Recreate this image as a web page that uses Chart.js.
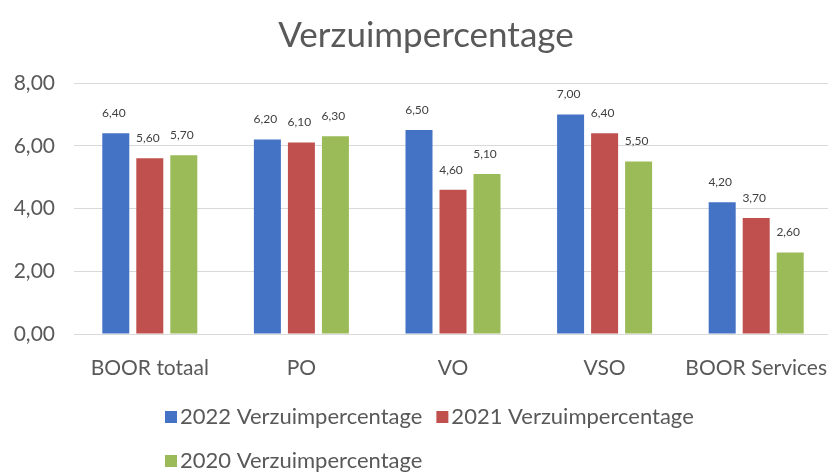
<!DOCTYPE html>
<html><head><meta charset="utf-8">
<script src="https://cdn.jsdelivr.net/npm/chart.js@4"></script>
<style>html,body{margin:0;padding:0;background:#fff;overflow:hidden;}#wrap{width:834px;height:472px;}</style>
</head><body><div id="wrap"><canvas id="c"></canvas></div>
<script>
const categories = ["BOOR totaal", "PO", "VO", "VSO", "BOOR Services"];
const seriesNames = ["2022 Verzuimpercentage", "2021 Verzuimpercentage", "2020 Verzuimpercentage"];
const values2022 = [6.40, 6.20, 6.50, 7.00, 4.20];
const values2021 = [5.60, 6.10, 4.60, 6.40, 3.70];
const values2020 = [5.70, 6.30, 5.10, 5.50, 2.60];
const yTicks = [0, 2, 4, 6, 8];
const colors = ["#4472c4", "#c0504d", "#9bbb59"];
const FONT = "Lato";
const fmt = v => v.toFixed(2).replace(".", ",");

const titleShift = {
  id: "titleShift",
  afterLayout(chart) {
    if (chart.titleBlock) { chart.titleBlock.left += 20; chart.titleBlock.right += 0; }
  }
};

const labelPlugin = {
  id: "barLabels",
  afterDatasetsDraw(chart) {
    const ctx = chart.ctx;
    ctx.save();
    ctx.font = "12px " + FONT;
    ctx.fillStyle = "#404040";
    ctx.textAlign = "center";
    ctx.textBaseline = "middle";
    chart.data.datasets.forEach((ds, i) => {
      const meta = chart.getDatasetMeta(i);
      meta.data.forEach((bar, j) => {
        ctx.fillText(fmt(ds.data[j]), bar.x - 2, bar.y - 20);
      });
    });
    ctx.restore();
  }
};

const legendPlugin = {
  id: "customLegend",
  afterDraw(chart) {
    const ctx = chart.ctx;
    ctx.save();
    ctx.font = "22px " + FONT;
    ctx.textBaseline = "middle";
    ctx.textAlign = "left";
    const startX = 165;
    const rows = [[0, 1], [2]];
    const rowY = [417, 461];
    rows.forEach((row, r) => {
      let x = startX;
      row.forEach(i => {
        const ds = chart.data.datasets[i];
        ctx.fillStyle = ds.backgroundColor;
        ctx.fillRect(x, rowY[r] - 6, 12, 12);
        x += 15;
        ctx.fillStyle = "#595959";
        ctx.fillText(ds.label, x, rowY[r]);
        x += ctx.measureText(ds.label).width + 14;
      });
    });
    ctx.restore();
  }
};

new Chart(document.getElementById("c"), {
  type: "bar",
  data: {
    labels: categories,
    datasets: [
      { label: seriesNames[0], data: values2022, backgroundColor: colors[0] },
      { label: seriesNames[1], data: values2021, backgroundColor: colors[1] },
      { label: seriesNames[2], data: values2020, backgroundColor: colors[2] }
    ]
  },
  options: {
    responsive: true,
    maintainAspectRatio: false,
    animation: false,
    layout: { padding: { left: 0, right: 2, top: 0, bottom: 0 } },
    datasets: { bar: { categoryPercentage: 0.673, barPercentage: 0.794 } },
    plugins: {
      legend: { display: false },
      tooltip: { enabled: false },
      title: {
        display: true,
        text: "Verzuimpercentage",
        color: "#595959",
        font: { family: FONT, size: 35, weight: "normal" },
        padding: { top: 15, bottom: 26 }
      }
    },
    scales: {
      x: {
        grid: { display: false, drawTicks: false },
        border: { display: true, color: "#d9d9d9", width: 1 },
        ticks: { color: "#595959", font: { family: FONT, size: 21 }, padding: 22, maxRotation: 0, autoSkip: false },
        afterFit(scale) { scale.height = 472 - 334; scale.paddingLeft = 0; scale.paddingRight = 0; }
      },
      y: {
        min: 0, max: 8,
        afterBuildTicks(scale) { scale.ticks = yTicks.map(v => ({ value: v })); },
        grid: { color: "#d9d9d9", drawTicks: false },
        border: { display: false },
        ticks: { color: "#595959", font: { family: FONT, size: 21 }, padding: 19, callback: v => fmt(v) },
        afterFit(scale) { scale.width = 74; scale.paddingTop = 0; scale.paddingBottom = 0; }
      }
    }
  },
  plugins: [titleShift, labelPlugin, legendPlugin]
});
</script></body></html>
